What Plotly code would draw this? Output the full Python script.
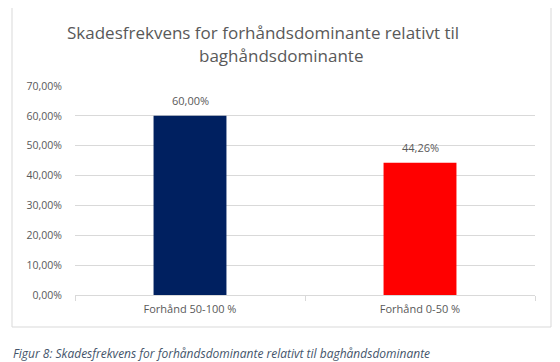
import plotly.graph_objects as go

categories = ["Forhånd 50-100 %", "Forhånd 0-50 %"]
values = [0.60, 0.4426]
colors = ["#002060", "#FF0000"]
tick_vals = [0, 0.1, 0.2, 0.3, 0.4, 0.5, 0.6, 0.7]

title_line1 = "Skadesfrekvens for forhåndsdominante relativt til"
title_line2 = "baghåndsdominante"
caption = "Figur 8: Skadesfrekvens for forhåndsdominante relativt til baghåndsdominante"

OFF = 8  # page body margin
W, H = 560 - OFF, 362 - OFF
L, R, T = 75 - OFF, 25, 86 - OFF
B = H - (295 - OFF)
pw, ph = W - L - R, H - T - B

def px(x):
    return (x - OFF - L) / pw

def py(y):
    return (H - B - (y - OFF)) / ph

FONT = "Open Sans"
GRAY = "#595959"

fig = go.Figure()
fig.add_trace(go.Bar(
    x=categories, y=values, marker_color=colors, marker_line_width=0,
    width=0.317, hoverinfo="x+y",
))

label_annotations = [
    dict(x=c, y=v, xref="x", yref="y", text=f"{v*100:.2f}%".replace(".", ","),
         showarrow=False, xanchor="center", yanchor="bottom", yshift=6,
         font=dict(family=FONT, size=11, color=GRAY))
    for c, v in zip(categories, values)
]

fig.update_layout(
    width=W, height=H,
    margin=dict(l=L, r=R, t=T, b=B),
    paper_bgcolor="white", plot_bgcolor="white",
    separators=",.",
    showlegend=False,
    font=dict(family=FONT, size=11, color=GRAY),
    xaxis=dict(
        showgrid=False, showline=True, linecolor="#D9D9D9", linewidth=1,
        ticks="outside", tickson="boundaries", ticklen=5, tickcolor="#D9D9D9",
        tickfont=dict(family=FONT, size=11, color=GRAY), ticklabelstandoff=4,
        range=[-0.5, 1.5],
    ),
    yaxis=dict(
        range=[0, 0.7], tickvals=tick_vals, tickformat=".2%",
        showgrid=True, gridcolor="#D9D9D9", gridwidth=1,
        zeroline=False, showline=False, ticks="",
        tickfont=dict(family=FONT, size=10.5, color=GRAY), ticklabelstandoff=12,
    ),
    shapes=[dict(
        type="rect", xref="paper", yref="paper",
        x0=px(12), x1=px(551), y0=py(327), y1=py(5),
        line=dict(color="#D9D9D9", width=1), fillcolor="rgba(0,0,0,0)", layer="below",
    )],
    annotations=label_annotations + [
        dict(text=title_line1, xref="paper", yref="paper", x=px(263), y=py(33),
             showarrow=False, xanchor="center", yanchor="middle",
             font=dict(family=FONT, size=17, color=GRAY)),
        dict(text=title_line2, xref="paper", yref="paper", x=px(281), y=py(56),
             showarrow=False, xanchor="center", yanchor="middle",
             font=dict(family=FONT, size=17, color=GRAY)),
        dict(text="<i>" + caption + "</i>", xref="paper", yref="paper", x=px(11), y=py(353),
             showarrow=False, xanchor="left", yanchor="middle",
             font=dict(family=FONT, size=12, color="#44546A")),
    ],
)

fig.write_html("out.html")
